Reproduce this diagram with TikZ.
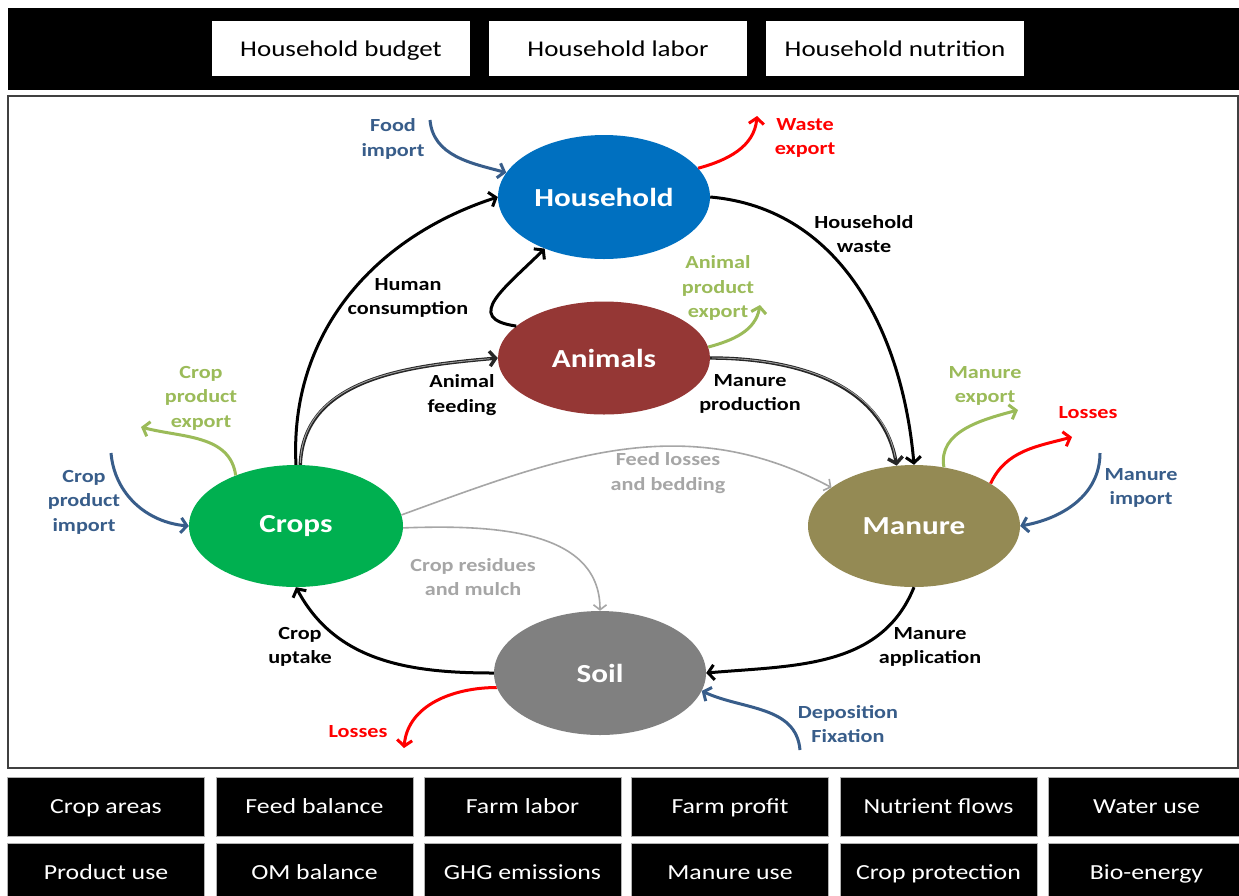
\documentclass[tikz,border=0pt]{standalone}
\usepackage{fontspec}
\setmainfont{Carlito}[FakeStretch=1.2]
\usetikzlibrary{shapes.geometric,arrows.meta}
\definecolor{hhblue}{RGB}{0,112,192}
\definecolor{anred}{RGB}{149,55,53}
\definecolor{cropgreen}{RGB}{0,176,80}
\definecolor{manolive}{RGB}{148,138,84}
\definecolor{soilgray}{RGB}{128,128,128}
\definecolor{impblue}{RGB}{56,93,138}
\definecolor{expgreen}{RGB}{155,187,89}
\definecolor{lossred}{RGB}{255,0,0}
\definecolor{flowgray}{RGB}{166,166,166}
\begin{document}
\begin{tikzpicture}[x=1pt,y=1pt,
  pool/.style={ellipse, minimum width=212pt, minimum height=124pt, inner sep=0pt, text=white, font=\bfseries\fontsize{26}{30}\selectfont},
  lbl/.style={align=center, font=\bfseries\fontsize{18.5}{24.5}\selectfont, inner sep=0pt},
  tipb/.style={-{Straight Barb[length=6pt,width=15pt]}},
  mainflow/.style={draw=black, line width=3pt, tipb},
  shadeflow/.style={draw=black!85, line width=3.4pt, tipb, postaction={draw=gray!75, line width=0.9pt, -, shorten >=8pt, shorten <=2pt}},
  thinflow/.style={draw=flowgray, line width=1.6pt, -{Straight Barb[length=5pt,width=13pt]}},
  impflow/.style={draw=impblue, line width=3pt, tipb},
  expflow/.style={draw=expgreen, line width=3pt, tipb},
  lossflow/.style={draw=lossred, line width=3pt, tipb},
  topbox/.style={fill=white, minimum width=258pt, minimum height=55pt, inner sep=0pt, text height=19pt, text depth=2.5pt, font=\fontsize{22.5}{26}\selectfont},
  botbox/.style={fill=black, draw=gray!60, line width=0.6pt, text=white, minimum width=197pt, minimum height=59pt, inner sep=0pt, text height=16.5pt, text depth=2.5pt, font=\fontsize{21.5}{25}\selectfont}
]
\useasboundingbox (0,0) rectangle (1239,-895);
% top bar
\fill[black] (8,-8) rectangle (1245,-90);
\node[topbox] (tb1) at (341,-48.5) {Household budget};
\node[topbox] (tb2) at (618,-48.5) {Household labor};
\node[topbox] (tb3) at (895,-48.5) {Household nutrition};
% main frame
\draw[draw=black!75, line width=1.6pt, fill=white] (8,-96) rectangle (1238,-768);
% bottom boxes
\node[botbox] (b1) at (106,-806.5) {Crop areas};
\node[botbox] (b2) at (314.5,-806.5) {Feed balance};
\node[botbox] (b3) at (522.5,-806.5) {Farm labor};
\node[botbox] (b4) at (730,-806.5) {Farm profit};
\node[botbox] (b5) at (938.5,-806.5) {Nutrient flows};
\node[botbox] (b6) at (1146.5,-806.5) {Water use};
\node[botbox] (c1) at (106,-872.5) {Product use};
\node[botbox] (c2) at (314.5,-872.5) {OM balance};
\node[botbox] (c3) at (522.5,-872.5) {GHG emissions};
\node[botbox] (c4) at (730,-872.5) {Manure use};
\node[botbox] (c5) at (938.5,-872.5) {Crop protection};
\node[botbox] (c6) at (1146.5,-872.5) {Bio-energy};
% pools
\node[pool, fill=hhblue] (hh) at (604,-197) {Household};
\node[pool, fill=anred, minimum height=113pt] (an) at (604,-358) {Animals};
\node[pool, fill=cropgreen, minimum width=214pt, minimum height=122pt] (cr) at (296,-526) {Crops};
\node[pool, fill=manolive, minimum height=122pt] (ma) at (914,-526) {Manure};
\node[pool, fill=soilgray] (so) at (600,-673) {Soil};
% coordinates for free ends
\coordinate (fiS) at (430,-120);
\coordinate (weE) at (757,-116);
\coordinate (apE) at (760,-305);
\coordinate (cpeE) at (141,-427);
\coordinate (cpiS) at (111,-453);
\coordinate (meE) at (1018,-410);
\coordinate (mlE) at (1072,-437);
\coordinate (miS) at (1100,-453);
\coordinate (slE) at (404,-748);
\coordinate (dfS) at (800,-750);
% main flows
\draw[mainflow] (cr.north) to[out=93, in=198] (hh.west);
\draw[mainflow] (an.160) to[out=172, in=225, looseness=1.7] (hh.221);
\draw[shadeflow] (cr.86) to[out=88, in=185] (an.west);
\draw[shadeflow] (an.east) to[out=0, in=100] (ma.106);
\draw[mainflow] (hh.east) to[out=-5, in=95] (ma.north);
\draw[mainflow] (ma.south) to[out=-112, in=5] (so.east);
\draw[mainflow] (so.west) to[out=180, in=-62] (cr.south);
\draw[thinflow] (cr.6) to[out=20, in=152] (ma.155);
\draw[thinflow] (cr.-1) to[out=2, in=90] (so.north);
% imports / exports
\draw[impflow] (fiS) to[out=-85, in=165] (hh.166);
\draw[lossflow] (hh.17) to[out=15, in=-95] (weE);
\draw[expflow] (an.6) to[out=15, in=-100] (apE);
\draw[expflow] (cr.140) to[out=98, in=-15] (cpeE);
\draw[impflow] (cpiS) to[out=-85, in=175] (cr.west);
\draw[expflow] (ma.63) to[out=100, in=195] (meE);
\draw[lossflow] (ma.29) to[out=65, in=195] (mlE);
\draw[impflow] (miS) to[out=-90, in=10] (ma.east);
\draw[lossflow] (so.188) to[out=180, in=85] (slE);
\draw[impflow] (dfS) to[out=95, in=-25] (so.-10);
% labels
\node[lbl, text=impblue] (lfi) at (393,-139) {Food\\import};
\node[lbl, text=lossred] (lwe) at (805,-138) {Waste\\export};
\node[lbl] (lhw) at (864,-234) {Household\\waste};
\node[lbl] (lhc) at (408,-298) {Human\\consumption};
\node[lbl, text=expgreen] (lap) at (718,-288) {Animal\\product\\export};
\node[lbl] (laf) at (462,-395) {Animal\\feeding};
\node[lbl] (lmp) at (750,-394) {Manure\\production};
\node[lbl, text=expgreen] (lcpe) at (201,-398) {Crop\\product\\export};
\node[lbl, text=impblue] (lcpi) at (84,-502) {Crop\\product\\import};
\node[lbl, text=flowgray] (lfl) at (668,-473) {Feed losses\\and bedding};
\node[lbl, text=flowgray] (lcr) at (473,-577) {Crop residues\\and mulch};
\node[lbl, text=expgreen] (lme) at (985,-386) {Manure\\export};
\node[lbl, text=lossred] (lml) at (1088,-413) {Losses};
\node[lbl, text=impblue] (lmi) at (1141,-488) {Manure\\import};
\node[lbl] (lcu) at (300,-647) {Crop\\uptake};
\node[lbl] (lma) at (930,-647) {Manure\\application};
\node[lbl, text=lossred] (lsl) at (358,-732) {Losses};
\node[lbl, text=impblue] (ldf) at (848,-724) {Deposition\\Fixation};
\end{tikzpicture}
\end{document}
